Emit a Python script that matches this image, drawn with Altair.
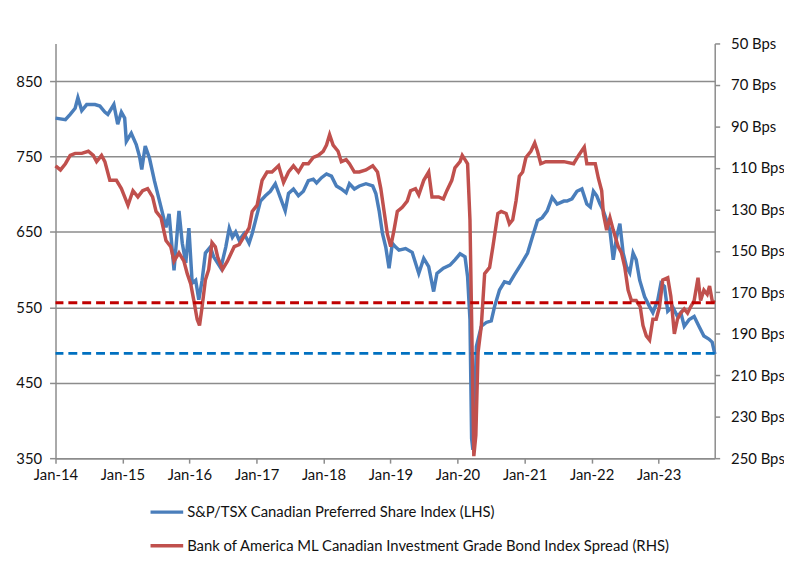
import altair as alt
import pandas as pd

SERIES = [
    "S&P/TSX Canadian Preferred Share Index (LHS)",
    "Bank of America ML Canadian Investment Grade Bond Index Spread (RHS)",
]

# time in years since Jan 1, 2014
blue_t = [0.000, 0.148, 0.221, 0.295, 0.335, 0.394, 0.468, 0.590, 0.664, 0.738,
          0.782, 0.871, 0.930, 0.985, 1.033, 1.058, 1.132, 1.206, 1.255, 1.289,
          1.339, 1.402, 1.476, 1.575, 1.649, 1.697, 1.771, 1.845, 1.894, 1.944,
          1.993, 2.041, 2.092, 2.140, 2.189, 2.239, 2.313, 2.362, 2.469, 2.543,
          2.593, 2.642, 2.691, 2.741, 2.815, 2.889, 2.937, 2.986, 3.060, 3.134,
          3.207, 3.281, 3.355, 3.429, 3.479, 3.553, 3.627, 3.700, 3.774, 3.848,
          3.897, 3.970, 4.044, 4.118, 4.192, 4.266, 4.339, 4.388, 4.462, 4.536,
          4.635, 4.734, 4.782, 4.831, 4.881, 4.930, 4.979, 5.029, 5.077, 5.126,
          5.225, 5.324, 5.421, 5.495, 5.569, 5.643, 5.693, 5.790, 5.889, 5.963,
          6.037, 6.111, 6.150, 6.185, 6.210, 6.229, 6.258, 6.283, 6.357, 6.431,
          6.505, 6.554, 6.627, 6.701, 6.775, 6.849, 6.948, 7.045, 7.119, 7.193,
          7.266, 7.340, 7.414, 7.488, 7.587, 7.635, 7.709, 7.783, 7.857, 7.931,
          7.981, 8.030, 8.078, 8.128, 8.177, 8.226, 8.276, 8.325, 8.373, 8.424,
          8.472, 8.521, 8.571, 8.620, 8.668, 8.719, 8.793, 8.866, 8.915, 8.989,
          9.037, 9.088, 9.137, 9.210, 9.284, 9.333, 9.383, 9.457, 9.531, 9.604,
          9.678, 9.752, 9.801, 9.840]
blue_v = [801, 799, 806, 814, 828, 811, 819, 819, 817, 809,
          806, 819, 793, 809, 801, 770, 781, 766, 750, 733,
          764, 748, 718, 683, 656, 674, 599, 678, 635, 609,
          655, 582, 586, 560, 586, 622, 630, 617, 602, 630,
          655, 643, 650, 639, 648, 635, 648, 665, 691, 698,
          704, 714, 696, 678, 701, 707, 698, 704, 718, 720,
          715, 722, 727, 724, 711, 707, 702, 714, 707, 711,
          714, 711, 701, 678, 648, 630, 602, 635, 630, 626,
          628, 623, 595, 615, 604, 571, 595, 602, 606, 613,
          621, 617, 591, 534, 376, 361, 429, 498, 525, 530,
          532, 551, 573, 584, 582, 593, 607, 622, 644, 665,
          669, 678, 696, 687, 691, 691, 694, 704, 707, 687,
          683, 704, 698, 687, 678, 665, 652, 613, 643, 661,
          622, 604, 596, 622, 613, 586, 564, 551, 543, 560,
          582, 578, 545, 551, 538, 543, 525, 534, 538, 525,
          512, 508, 504, 488]

red_t = [0.000, 0.074, 0.148, 0.221, 0.295, 0.394, 0.492, 0.565, 0.616, 0.689,
         0.738, 0.812, 0.911, 0.985, 1.033, 1.082, 1.156, 1.230, 1.303, 1.377,
         1.451, 1.501, 1.575, 1.649, 1.722, 1.771, 1.845, 1.919, 1.967, 2.018,
         2.066, 2.115, 2.151, 2.189, 2.239, 2.288, 2.336, 2.387, 2.421, 2.494,
         2.568, 2.667, 2.741, 2.815, 2.889, 2.937, 3.011, 3.085, 3.159, 3.232,
         3.331, 3.405, 3.479, 3.553, 3.627, 3.700, 3.774, 3.848, 3.922, 3.996,
         4.044, 4.093, 4.143, 4.217, 4.266, 4.339, 4.388, 4.462, 4.536, 4.635,
         4.734, 4.807, 4.856, 4.905, 4.955, 5.004, 5.052, 5.103, 5.176, 5.250,
         5.299, 5.373, 5.421, 5.495, 5.569, 5.619, 5.717, 5.790, 5.840, 5.914,
         5.963, 6.037, 6.071, 6.111, 6.150, 6.185, 6.210, 6.244, 6.273, 6.307,
         6.357, 6.406, 6.480, 6.528, 6.602, 6.652, 6.726, 6.775, 6.824, 6.874,
         6.923, 6.971, 7.021, 7.095, 7.154, 7.193, 7.243, 7.317, 7.390, 7.488,
         7.587, 7.734, 7.808, 7.892, 7.931, 8.004, 8.055, 8.103, 8.152, 8.177,
         8.226, 8.276, 8.325, 8.399, 8.447, 8.497, 8.546, 8.595, 8.668, 8.728,
         8.768, 8.816, 8.866, 8.915, 8.964, 9.014, 9.063, 9.137, 9.185, 9.235,
         9.284, 9.333, 9.383, 9.432, 9.480, 9.531, 9.590, 9.628, 9.678, 9.727,
         9.761, 9.801, 9.840]
red_v = [109, 111, 108, 104, 103, 103, 102, 104, 107, 104,
         107, 116, 116, 120, 124, 128, 121, 124, 121, 120,
         124, 131, 134, 145, 148, 155, 151, 155, 161, 166,
         174, 183, 186, 177, 164, 159, 146, 148, 153, 159,
         155, 148, 147, 143, 139, 131, 128, 116, 112, 112,
         109, 117, 112, 109, 112, 108, 108, 105, 104, 102,
         99, 94, 99, 102, 107, 106, 108, 112, 112, 111,
         109, 112, 120, 131, 142, 148, 140, 131, 129, 126,
         121, 120, 123, 116, 112, 124, 124, 125, 121, 116,
         110, 107, 104, 106, 108, 135, 183, 249, 239, 199,
         186, 161, 158, 148, 132, 131, 132, 137, 135, 126,
         114, 112, 105, 102, 98, 102, 108, 107, 107, 107,
         107, 108, 104, 100, 108, 108, 108, 115, 121, 132,
         140, 134, 140, 148, 151, 158, 169, 174, 174, 177,
         186, 191, 193, 183, 183, 177, 164, 163, 172, 190,
         183, 180, 178, 180, 177, 174, 163, 174, 169, 171,
         167, 174, 175]

blue_ref = [489]
red_ref = [175]
x_tick_years = list(range(2014, 2024))
lhs_ticks = [350, 450, 550, 650, 750, 850]
rhs_ticks = list(range(50, 251, 20))


def to_dates(ts):
    base = pd.Timestamp("2014-01-01")
    return [(base + pd.Timedelta(days=float(v) * 365.25)).normalize() for v in ts]


blue_df = pd.DataFrame({"date": to_dates(blue_t), "LHS": blue_v, "series": SERIES[0]})
red_df = pd.DataFrame({"date": to_dates(red_t), "RHS": red_v, "series": SERIES[1]})

FONT = "Lato"
FS = 15
TXT = "#111111"
GRAY = "#8c8c8c"
BLUE = "#4a7ebb"
RED = "#c0504d"

x_enc = alt.X(
    "date:T",
    scale=alt.Scale(
        domain=[alt.DateTime(year=2014, month=1, date=1),
                alt.DateTime(year=2023, month=11, date=3)],
        nice=False,
    ),
    axis=alt.Axis(
        title=None,
        values=[alt.DateTime(year=y, month=1, date=1) for y in x_tick_years],
        format="%b-%y",
        tickSize=5,
        labelPadding=5,
        grid=False,
        domainColor=GRAY,
        domainWidth=1.5,
        tickColor=GRAY,
        tickWidth=1.5,
        labelFontSize=FS,
        labelColor=TXT,
        labelFont=FONT,
        labelFlush=False,
        labelOverlap=False,
    ),
)

lhs_scale = alt.Scale(domain=[350, 900], nice=False, zero=False)
lhs_axis = alt.Axis(
    title=None, orient="left", values=lhs_ticks, grid=True,
    gridColor=GRAY, gridWidth=1.5, tickSize=6, labelPadding=8,
    domainColor=GRAY, domainWidth=1.5, tickColor=GRAY, tickWidth=1.5,
    labelFontSize=FS, labelColor=TXT, labelFont=FONT,
)
rhs_scale = alt.Scale(domain=[50, 250], reverse=True, nice=False, zero=False)
rhs_axis = alt.Axis(
    title=None, orient="right", values=rhs_ticks, grid=False,
    labelExpr="datum.value + ' Bps'", tickSize=5, labelPadding=11,
    domainColor=GRAY, domainWidth=1.5, tickColor=GRAY, tickWidth=1.5,
    labelFontSize=FS, labelColor=TXT, labelFont=FONT,
)

legend = alt.Legend(
    title=None, orient="none", legendX=94, legendY=455, direction="vertical",
    symbolType="stroke", symbolSize=1089, symbolStrokeWidth=3.5,
    labelFontSize=FS, labelFont=FONT, labelColor=TXT, rowPadding=7,
    labelOffset=2, padding=0, labelLimit=700,
)
color_enc = alt.Color("series:N", scale=alt.Scale(domain=SERIES, range=[BLUE, RED]), legend=legend)

blue_line = alt.Chart(blue_df).mark_line(strokeWidth=3.5).encode(
    x=x_enc, y=alt.Y("LHS:Q", scale=lhs_scale, axis=lhs_axis), color=color_enc
)
blue_rule = alt.Chart(pd.DataFrame({"LHS": blue_ref})).mark_rule(
    color="#0070c0", strokeWidth=3, strokeDash=[9, 5]
).encode(y=alt.Y("LHS:Q", scale=lhs_scale, axis=lhs_axis))

red_line = alt.Chart(red_df).mark_line(strokeWidth=3.5).encode(
    x=x_enc, y=alt.Y("RHS:Q", scale=rhs_scale, axis=rhs_axis), color=color_enc
)
red_rule = alt.Chart(pd.DataFrame({"RHS": red_ref})).mark_rule(
    color="#c00000", strokeWidth=3, strokeDash=[9, 5]
).encode(y=alt.Y("RHS:Q", scale=rhs_scale, axis=rhs_axis))

left = alt.layer(blue_line, blue_rule)
right = alt.layer(red_line, red_rule)

chart = (
    alt.layer(left, right)
    .resolve_scale(y="independent")
    .properties(
        width=666, height=419,
        autosize=alt.AutoSizeParams(type="none"),
        padding={"left": 48, "top": 33, "right": 70, "bottom": 96},
        background="white",
    )
    .configure_view(stroke=None)
)

chart.save("out.html", embed_options={"renderer": "svg", "actions": False})
